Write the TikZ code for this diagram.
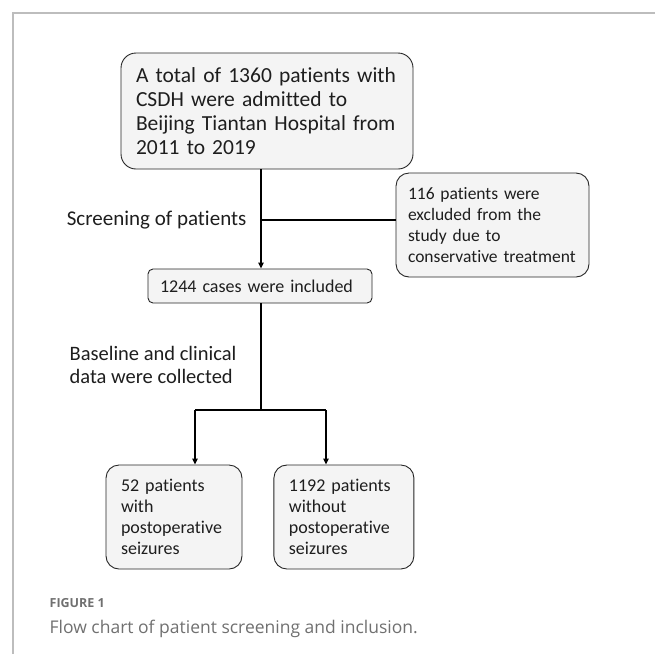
\documentclass[tikz,border=0pt]{standalone}
\usepackage{fontspec}
\setmainfont{Carlito}[Ligatures=NoCommon]
\newfontfamily\capfont{Open Sans}
\usetikzlibrary{positioning,arrows.meta}

\definecolor{boxfill}{HTML}{F4F4F4}
\definecolor{boxline}{HTML}{262626}
\definecolor{framegrey}{HTML}{BDBDBD}
\definecolor{capgrey}{HTML}{707070}
\definecolor{inktext}{HTML}{1E1E1E}

\tikzset{
  flow box/.style={draw=boxline, fill=boxfill, text=inktext, line width=0.9pt, align=left,
    inner ysep=0pt, inner xsep=15pt},
  big text/.style={font=\fontsize{21.5}{24}\selectfont},
  small text/.style={font=\fontsize{18}{21}\selectfont},
  side label/.style={text=inktext, align=left, inner sep=0pt},
}

\begin{document}
\begin{tikzpicture}[x=1pt,y=-1pt,->,>={Triangle[length=6pt,width=5.5pt]},
            line width=1.3pt]

        \useasboundingbox (0,0) rectangle (655,654);

        % Frame
        \draw[-,framegrey,line width=1.4pt] (13,654) -- (13,13) -- (655,13);

        % Define boxes
        \node[flow box, big text, rounded corners=15pt, text width=262pt,
              minimum height=116pt] (total) at (267,111)
              {A total of 1360 patients with\\CSDH were admitted to\\Beijing Tiantan Hospital from\\2011 to 2019};
        \node[flow box, font=\fontsize{17.5}{21}\selectfont, rounded corners=13pt,
              inner xsep=12pt, text width=169pt, minimum height=104pt] (excl) at (492.5,225)
              {116 patients were\\excluded from the\\study due to\\conservative treatment};
        \node[flow box, font=\fontsize{18}{21}\selectfont, rounded corners=5pt,
              inner xsep=12pt, text width=200pt, minimum height=34pt] (incl) at (260,286)
              {1244 cases were included};
        \node[flow box, small text, rounded corners=13pt, text width=106pt,
              minimum height=104pt] (with) at (174,517)
              {52 patients\\with\\postoperative\\seizures};
        \node[flow box, small text, rounded corners=13pt, text width=110pt,
              minimum height=104pt, right=31pt of with] (without)
              {1192 patients\\without\\postoperative\\seizures};

        % Labels
        \node[side label, anchor=east, font=\fontsize{21}{23}\selectfont] (screen)
              at (247,220) {Screening of patients};
        \node[side label, anchor=west, font=\fontsize{20.5}{23}\selectfont] (collect)
              at (69,365) {Baseline and clinical\\data were collected};

        % Branch points
        \coordinate (split) at (261,220);
        \coordinate (fork) at (261,410);
        \coordinate (lfork) at (195,410);
        \coordinate (rfork) at (326,410);

        % Draw edges
        \draw (total.south -| split) -- (split |- incl.north);
        \draw[-] (split) -- (split -| excl.west);
        \draw[-] (split |- incl.south) -- (fork);
        \draw[-] (lfork) -- (rfork);
        \draw (lfork) -- (lfork |- with.north);
        \draw (rfork) -- (rfork |- without.north);

        % Caption
        \node[anchor=base west, inner sep=0pt, text=capgrey,
              font=\capfont\bfseries\fontsize{12.5}{14}\selectfont] (fig) at (49,607) {FIGURE 1};
        \node[anchor=base west, inner sep=0pt, text=capgrey,
              font=\capfont\fontsize{17.5}{20}\selectfont] (cap) at (49,633)
              {Flow chart of patient screening and inclusion.};

        \end{tikzpicture}
\end{document}
